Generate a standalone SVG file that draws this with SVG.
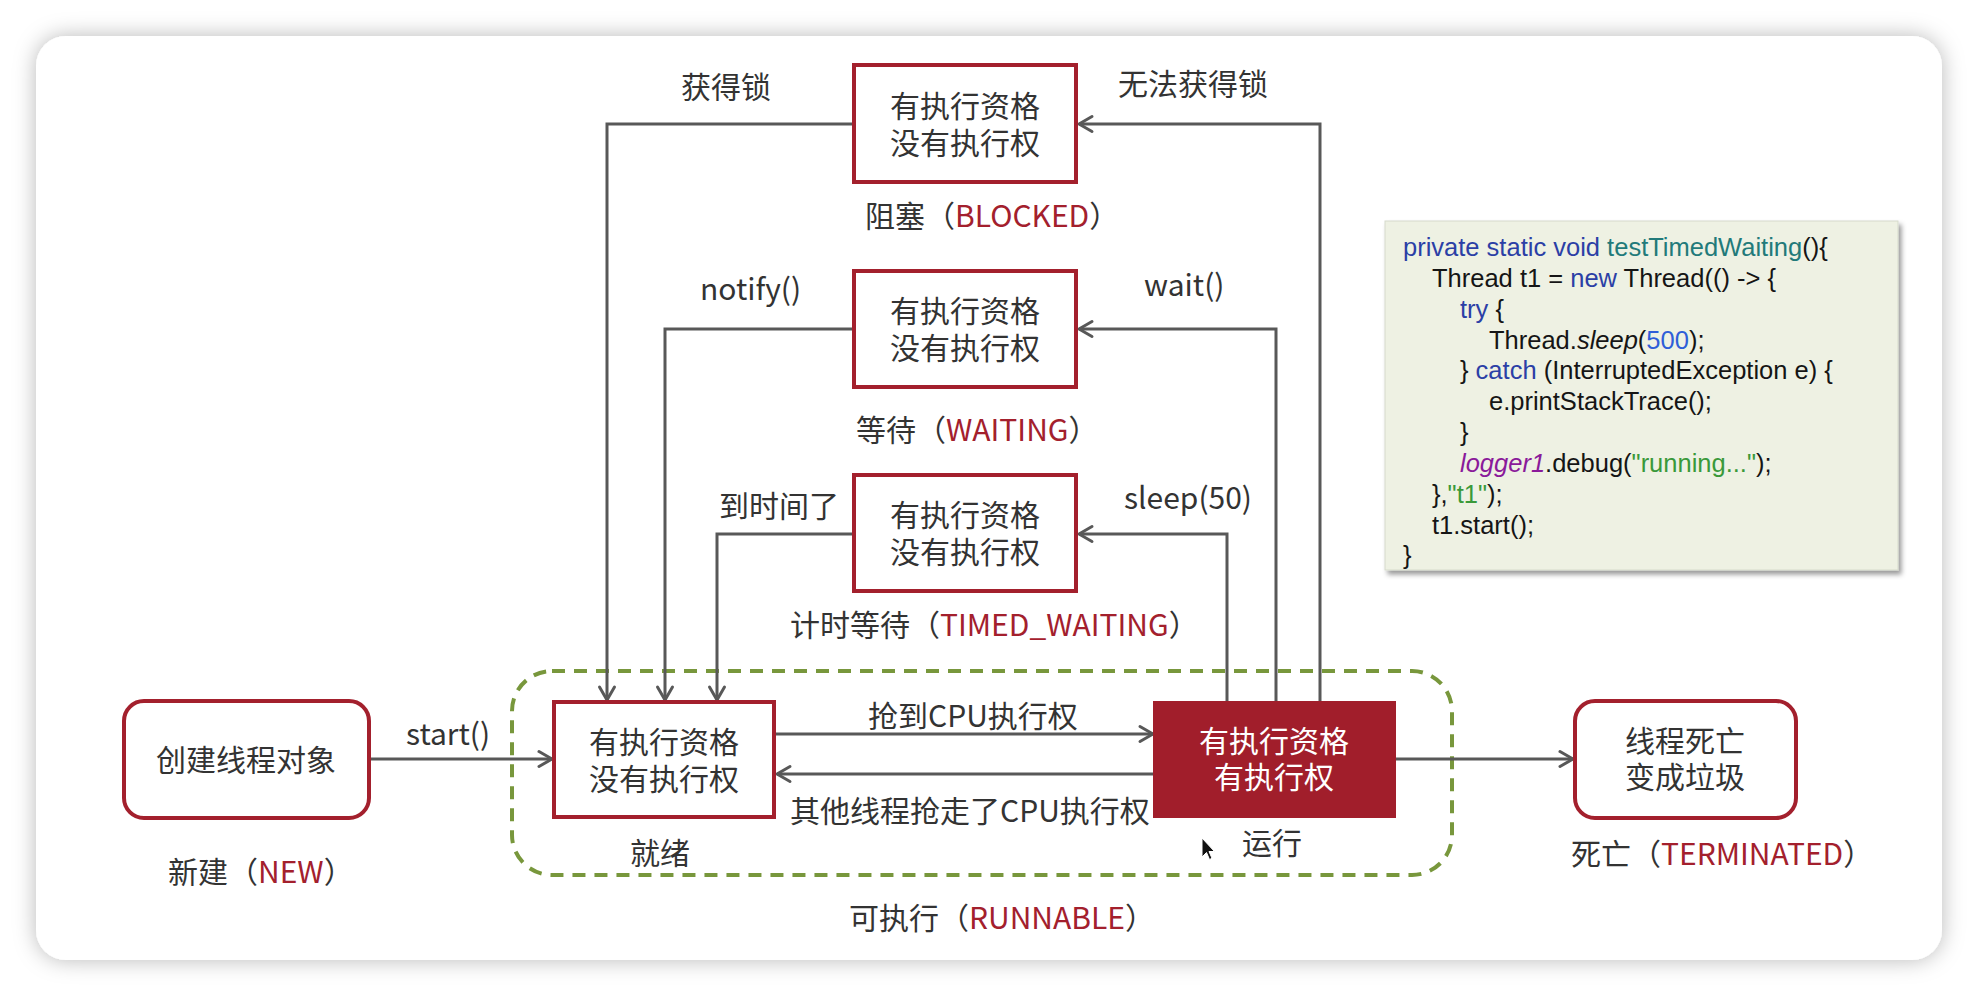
<svg xmlns="http://www.w3.org/2000/svg" width="1978" height="996" viewBox="0 0 1978 996">
<defs>
<filter id="cardShadow" x="-5%" y="-8%" width="110%" height="116%">
<feDropShadow dx="0" dy="0" stdDeviation="11" flood-color="#000" flood-opacity="0.28"/>
</filter>
<filter id="codeShadow" x="-5%" y="-5%" width="112%" height="115%">
<feDropShadow dx="3" dy="4" stdDeviation="2.5" flood-color="#000" flood-opacity="0.4"/>
</filter>
<marker id="arr" markerUnits="userSpaceOnUse" markerWidth="22" markerHeight="22" viewBox="0 0 22 22" refX="17" refY="11" orient="auto">
<path d="M4,3.5 L17,11 L4,18.5" fill="none" stroke="#585858" stroke-width="3" stroke-linecap="round" stroke-linejoin="round"/>
</marker>
<style>
.lbl{font-family:"Noto Sans CJK SC","Noto Sans",sans-serif;font-size:30px;fill:#333}
.red{fill:#a3202d}
.box{fill:#fff;stroke:#a3202d;stroke-width:4}
.ntxt{font-family:"Noto Sans CJK SC","Noto Sans",sans-serif;font-size:30px;fill:#333;text-anchor:middle}
.wtxt{font-family:"Noto Sans CJK SC","Noto Sans",sans-serif;font-size:30px;fill:#fff;text-anchor:middle}
.con{fill:none;stroke:#585858;stroke-width:3;marker-end:url(#arr)}
.code{font-family:"Liberation Sans",Arial,sans-serif;font-size:25.5px;fill:#151515}
.kw{fill:#2b3fa6}
.fn{fill:#227a7a}
.num{fill:#2f5ed8}
.it{font-style:italic}
.pur{fill:#8a1a9a;font-style:italic}
.str{fill:#3a993a}
</style>
</defs>
<rect x="0" y="0" width="1978" height="996" fill="#ffffff"/>
<rect id="card" x="36" y="36" width="1906" height="924" rx="30" ry="30" fill="#ffffff" filter="url(#cardShadow)"/>

<g id="runnable">
<rect x="512" y="671" width="940" height="204" rx="40" ry="40" fill="none" stroke="#78973c" stroke-width="4" stroke-dasharray="13 9"/>
<text class="lbl" x="849" y="929">可执行（<tspan class="red">RUNNABLE</tspan>）</text>
</g>

<g id="connectors">
<path class="con" d="M852,124 H607 V700"/>
<path class="con" d="M1320,701 V124 H1079"/>
<path class="con" d="M852,329 H665 V700"/>
<path class="con" d="M1276,701 V329 H1079"/>
<path class="con" d="M852,534 H717 V700"/>
<path class="con" d="M1227,701 V534 H1079"/>
<path class="con" d="M370,759 H552"/>
<path class="con" d="M776,734 H1153"/>
<path class="con" d="M1153,774 H777"/>
<path class="con" d="M1396,759 H1573"/>
<text class="lbl" x="681" y="98">获得锁</text>
<text class="lbl" x="1118" y="95">无法获得锁</text>
<text class="lbl" x="700" y="300">notify()</text>
<text class="lbl" x="1144" y="296">wait()</text>
<text class="lbl" x="719" y="517">到时间了</text>
<text class="lbl" x="1124" y="509">sleep(50)</text>
<text class="lbl" x="406" y="745">start()</text>
<text class="lbl" x="868" y="727">抢到CPU执行权</text>
<text class="lbl" x="790" y="822">其他线程抢走了CPU执行权</text>
</g>

<g id="blocked">
<rect class="box" x="854" y="65" width="222" height="117"/>
<text class="ntxt" x="965" y="117">有执行资格<tspan x="965" dy="37">没有执行权</tspan></text>
<text class="lbl" x="865" y="227">阻塞（<tspan class="red">BLOCKED</tspan>）</text>
</g>

<g id="waiting">
<rect class="box" x="854" y="271" width="222" height="116"/>
<text class="ntxt" x="965" y="322">有执行资格<tspan x="965" dy="37">没有执行权</tspan></text>
<text class="lbl" x="856" y="441">等待（<tspan class="red">WAITING</tspan>）</text>
</g>

<g id="timed_waiting">
<rect class="box" x="854" y="475" width="222" height="116"/>
<text class="ntxt" x="965" y="526">有执行资格<tspan x="965" dy="37">没有执行权</tspan></text>
<text class="lbl" x="790" y="636">计时等待（<tspan class="red">TIMED_WAITING</tspan>）</text>
</g>

<g id="new">
<rect class="box" x="124" y="701" width="245" height="117" rx="20" ry="20"/>
<text class="ntxt" x="246" y="771">创建线程对象</text>
<text class="lbl" x="168" y="883">新建（<tspan class="red">NEW</tspan>）</text>
</g>

<g id="ready">
<rect class="box" x="554" y="702" width="220" height="115"/>
<text class="ntxt" x="664" y="753">有执行资格<tspan x="664" dy="37">没有执行权</tspan></text>
<text class="lbl" x="630" y="864">就绪</text>
</g>

<g id="running">
<rect x="1153" y="701" width="243" height="117" fill="#a11e2b"/>
<text class="wtxt" x="1274" y="752">有执行资格<tspan x="1274" dy="36">有执行权</tspan></text>
<text class="lbl" x="1242" y="854">运行</text>
</g>

<g id="terminated">
<rect class="box" x="1575" y="701" width="221" height="117" rx="20" ry="20"/>
<text class="ntxt" x="1685" y="752">线程死亡<tspan x="1685" dy="36">变成垃圾</tspan></text>
<text class="lbl" x="1571" y="865">死亡（<tspan class="red">TERMINATED</tspan>）</text>
</g>

<g id="code">
<rect x="1385" y="221" width="513" height="349" fill="#eef1e3" stroke="#d6dacb" stroke-width="1" filter="url(#codeShadow)"/>
<text class="code" x="1403" y="256"><tspan class="kw">private static void</tspan> <tspan class="fn">testTimedWaiting</tspan>(){</text>
<text class="code" x="1432" y="287">Thread t1 = <tspan class="kw">new</tspan> Thread(() -&gt; {</text>
<text class="code" x="1460" y="318"><tspan class="kw">try</tspan> {</text>
<text class="code" x="1489" y="349">Thread.<tspan class="it">sleep</tspan>(<tspan class="num">500</tspan>);</text>
<text class="code" x="1460" y="379">} <tspan class="kw">catch</tspan> (InterruptedException e) {</text>
<text class="code" x="1489" y="410">e.printStackTrace();</text>
<text class="code" x="1460" y="441">}</text>
<text class="code" x="1460" y="472"><tspan class="pur">logger1</tspan>.debug(<tspan class="str">"running..."</tspan>);</text>
<text class="code" x="1432" y="503">},<tspan class="str">"t1"</tspan>);</text>
<text class="code" x="1432" y="534">t1.start();</text>
<text class="code" x="1403" y="564">}</text>
</g>

<g id="cursor">
<path d="M1202,838 L1202,857 L1206.5,852.5 L1209.5,859.5 L1212,858.3 L1209,851.5 L1214.5,851.5 Z" fill="#111" stroke="#fff" stroke-width="1"/>
</g>
</svg>
